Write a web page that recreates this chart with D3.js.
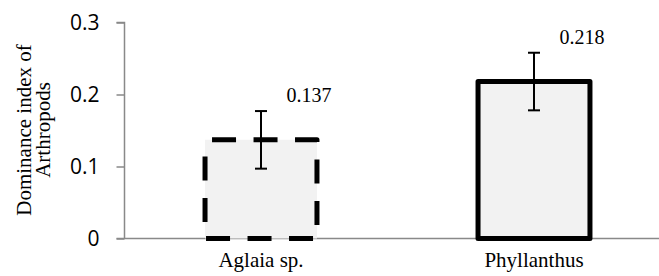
<!DOCTYPE html>
<html>
<head>
<meta charset="utf-8">
<script src="https://cdn.jsdelivr.net/npm/d3@7"></script>
<style>
  body { margin: 0; background: #fff; }
  svg { display: block; }
</style>
</head>
<body>
<svg width="659" height="276"></svg>
<script>
// data
var categories  = ["Aglaia sp.", "Phyllanthus"];
var values      = [0.137, 0.218];
var errors      = [0.04, 0.04];
var valueLabels = ["0.137", "0.218"];
var yTicks      = [0, 0.1, 0.2, 0.3];
var yTickLabels = ["0", "0.1", "0.2", "0.3"];
var yTitle      = ["Dominance index of", "Arthropods"];

var svg = d3.select("svg");

var x = d3.scaleBand()
  .domain(categories)
  .range([124.5, 670.5])
  .paddingInner(0.59)
  .paddingOuter(0.295);

var y = d3.scaleLinear()
  .domain([0, 0.3])
  .range([238.5, 22.5]);

var AXIS = "#898989";
var SERIF = "'Liberation Serif', 'Times New Roman', serif";
var SANS  = "'Open Sans', 'Liberation Sans', sans-serif";

// y axis
var yAxis = svg.append("g")
  .attr("transform", "translate(124.5,0)")
  .call(d3.axisLeft(y).tickValues(yTicks).tickSize(8).tickPadding(17)
        .tickFormat(function(d, i){ return yTickLabels[i]; }));
yAxis.select(".domain").attr("stroke", AXIS).attr("stroke-width", 1.5)
  .attr("d", "M-8," + y(0.3) + "H0V" + y(0));
yAxis.selectAll(".tick line").attr("stroke", AXIS).attr("stroke-width", 1.5);
yAxis.selectAll(".tick text")
  .style("font-family", SANS)
  .style("font-size", "21px")
  .attr("fill", "#000");

// x axis line
svg.append("line")
  .attr("x1", 116.5).attr("x2", 659)
  .attr("y1", y(0)).attr("y2", y(0))
  .attr("stroke", AXIS).attr("stroke-width", 1.5);

// bars
svg.selectAll(".bar")
  .data(values)
  .enter().append("path")
    .attr("class", "bar")
    .attr("d", function(d, i){
      var x0 = x(categories[i]), x1 = x0 + x.bandwidth();
      return "M" + x0 + "," + y(d) + "H" + x1 + "V" + y(0) + "H" + x0 + "Z";
    })
    .attr("fill", "#f2f2f2")
    .attr("stroke", "#000")
    .attr("stroke-width", 5)
    .attr("stroke-linejoin", "round")
    .attr("stroke-dasharray", function(d, i){ return i === 0 ? "24,17.5" : null; })
    .attr("stroke-dashoffset", function(d, i){ return i === 0 ? 34.5 : null; });

// error bars
var eb = svg.selectAll(".err")
  .data(values)
  .enter().append("g")
    .attr("class", "err")
    .attr("stroke", "#000")
    .attr("stroke-width", 2);
eb.append("line")
  .attr("x1", function(d, i){ return x(categories[i]) + x.bandwidth() / 2; })
  .attr("x2", function(d, i){ return x(categories[i]) + x.bandwidth() / 2; })
  .attr("y1", function(d, i){ return y(d + errors[i]); })
  .attr("y2", function(d, i){ return y(d - errors[i]); });
[1, -1].forEach(function(s){
  eb.append("line")
    .attr("x1", function(d, i){ return x(categories[i]) + x.bandwidth() / 2 - 6; })
    .attr("x2", function(d, i){ return x(categories[i]) + x.bandwidth() / 2 + 6; })
    .attr("y1", function(d, i){ return y(d + s * errors[i]); })
    .attr("y2", function(d, i){ return y(d + s * errors[i]); });
});

// value labels
svg.selectAll(".vlabel")
  .data(values)
  .enter().append("text")
    .attr("class", "vlabel")
    .attr("x", function(d, i){ return x(categories[i]) + x.bandwidth() / 2 + 48; })
    .attr("y", function(d){ return y(d) - 38; })
    .attr("text-anchor", "middle")
    .style("font-family", SERIF)
    .style("font-size", "20px")
    .text(function(d, i){ return valueLabels[i]; });

// category labels
svg.selectAll(".clabel")
  .data(categories)
  .enter().append("text")
    .attr("class", "clabel")
    .attr("x", function(d){ return x(d) + x.bandwidth() / 2; })
    .attr("y", 267)
    .attr("text-anchor", "middle")
    .style("font-family", SERIF)
    .style("font-size", "21px")
    .text(function(d){ return d; });

// y title
var t = svg.append("text")
  .attr("transform", "translate(0,130) rotate(-90)")
  .attr("text-anchor", "middle")
  .style("font-family", SERIF)
  .style("font-size", "21px");
t.selectAll("tspan")
  .data(yTitle)
  .enter().append("tspan")
    .attr("x", 0)
    .attr("y", function(d, i){ return 31 + i * 19; })
    .text(function(d){ return d; });
</script>
</body>
</html>
